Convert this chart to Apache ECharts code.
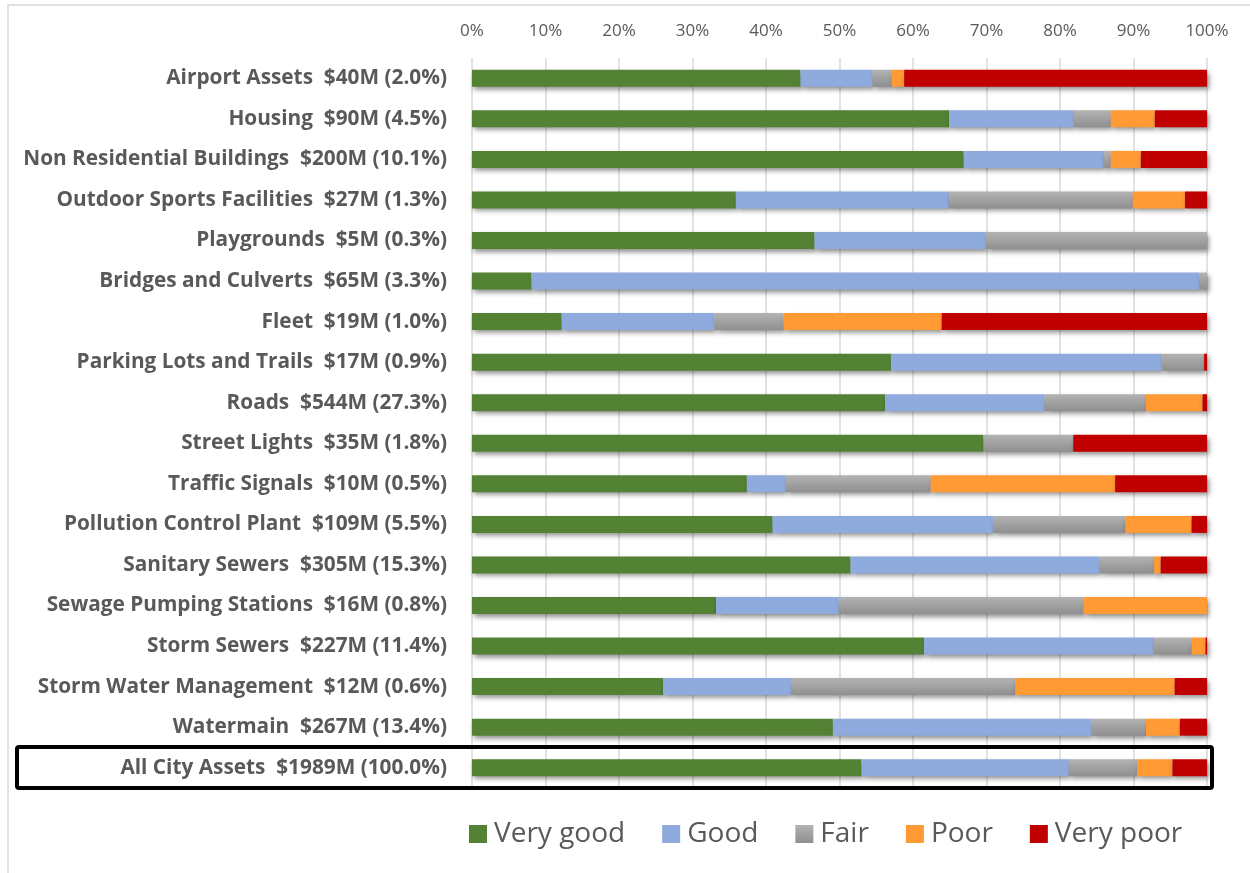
<!DOCTYPE html>
<html>
<head>
<meta charset="utf-8">
<script src="https://cdn.jsdelivr.net/npm/echarts@6/dist/echarts.min.js"></script>
<style>
  html, body { margin: 0; padding: 0; background: #fff; }
  #chart { width: 1250px; height: 873px; }
</style>
</head>
<body>
<div id="chart"></div>
<script>
// asset classes, replacement value ($M) and share of total
const assets = [
  "Airport Assets", "Housing", "Non Residential Buildings", "Outdoor Sports Facilities",
  "Playgrounds", "Bridges and Culverts", "Fleet", "Parking Lots and Trails", "Roads",
  "Street Lights", "Traffic Signals", "Pollution Control Plant", "Sanitary Sewers",
  "Sewage Pumping Stations", "Storm Sewers", "Storm Water Management", "Watermain",
  "All City Assets"
];
const valueM = [40, 90, 200, 27, 5, 65, 19, 17, 544, 35, 10, 109, 305, 16, 227, 12, 267, 1989];
const shareP = [2.0, 4.5, 10.1, 1.3, 0.3, 3.3, 1.0, 0.9, 27.3, 1.8, 0.5, 5.5, 15.3, 0.8, 11.4, 0.6, 13.4, 100.0];

// condition split, % of each asset class
const veryGood = [44.7, 64.9, 66.9, 35.9, 46.6, 8.1, 12.2, 57.0, 56.2, 69.6, 37.4, 40.9, 51.5, 33.2, 61.5, 26.0, 49.1, 53.0];
const good     = [9.8, 17.0, 19.1, 29.0, 23.3, 90.9, 20.8, 36.9, 21.7, 0, 5.3, 30.0, 33.9, 16.7, 31.3, 17.4, 35.2, 28.2];
const fair     = [2.6, 5.0, 0.9, 25.0, 30.1, 1.0, 9.4, 5.7, 13.8, 12.2, 19.7, 18.0, 7.4, 33.3, 5.1, 30.5, 7.4, 9.3];
const poor     = [1.7, 6.0, 4.1, 7.1, 0, 0, 21.5, 0, 7.7, 0, 25.1, 9.0, 0.9, 16.8, 1.9, 21.7, 4.6, 4.8];
const veryPoor = [41.2, 7.1, 9.0, 3.0, 0, 0, 36.1, 0.4, 0.6, 18.2, 12.5, 2.1, 6.3, 0, 0.2, 4.4, 3.7, 4.7];

const xTicks = [0, 10, 20, 30, 40, 50, 60, 70, 80, 90, 100];

const labels = assets.map((a, i) => a + "  $" + valueM[i] + "M (" + shareP[i].toFixed(1) + "%)");

const chart = echarts.init(document.getElementById("chart"));

const shadow = {
  shadowColor: "rgba(0,0,0,0.45)",
  shadowBlur: 5,
  shadowOffsetX: 2,
  shadowOffsetY: 3
};

function makeSeries(name, data, color) {
  return {
    name: name,
    type: "bar",
    stack: "total",
    barWidth: 17,
    data: data,
    itemStyle: Object.assign({ color: color }, shadow),
    emphasis: { disabled: true }
  };
}

const fairColor = new echarts.graphic.LinearGradient(0, 0, 0, 1, [
  { offset: 0, color: "#b3b3b3" },
  { offset: 1, color: "#8f8f8f" }
]);

chart.setOption({
  animation: false,
  textStyle: { fontFamily: "'Open Sans', 'Liberation Sans', sans-serif" },
  grid: { left: 472, right: 43, top: 58, bottom: 85 },
  legend: {
    top: 815,
    left: 464,
    icon: "rect",
    itemWidth: 18,
    itemHeight: 18,
    itemGap: 37,
    textStyle: { fontSize: 28, color: "#595959", padding: [0, 0, 0, 2] },
    data: ["Very good", "Good", "Fair", "Poor", "Very poor"]
  },
  xAxis: {
    type: "value",
    position: "top",
    min: xTicks[0],
    max: xTicks[xTicks.length - 1],
    interval: 10,
    axisLine: { show: false },
    axisTick: { show: false },
    axisLabel: { formatter: "{value}%", color: "#595959", fontSize: 17, margin: 18 },
    splitLine: { lineStyle: { color: "#d9d9d9", width: 1.5 } }
  },
  yAxis: {
    type: "category",
    inverse: true,
    data: labels,
    axisLine: { show: false },
    axisTick: { show: false },
    axisLabel: { color: "#595959", fontSize: 20.8, fontWeight: "bold", margin: 25 }
  },
  series: [
    makeSeries("Very good", veryGood, "#548235"),
    makeSeries("Good", good, "#8faadc"),
    makeSeries("Fair", fair, fairColor),
    makeSeries("Poor", poor, "#ff9a35"),
    makeSeries("Very poor", veryPoor, "#c00000")
  ],
  graphic: [
    {
      type: "rect",
      shape: { x: 8, y: 5, width: 1260, height: 880 },
      style: { fill: null, stroke: "#d9d9d9", lineWidth: 1.5 },
      silent: true
    },
    {
      type: "rect",
      shape: { x: 17, y: 747, width: 1195, height: 41, r: 2 },
      style: { fill: null, stroke: "#000", lineWidth: 4 },
      silent: true,
      z: 100
    }
  ]
});
</script>
</body>
</html>
